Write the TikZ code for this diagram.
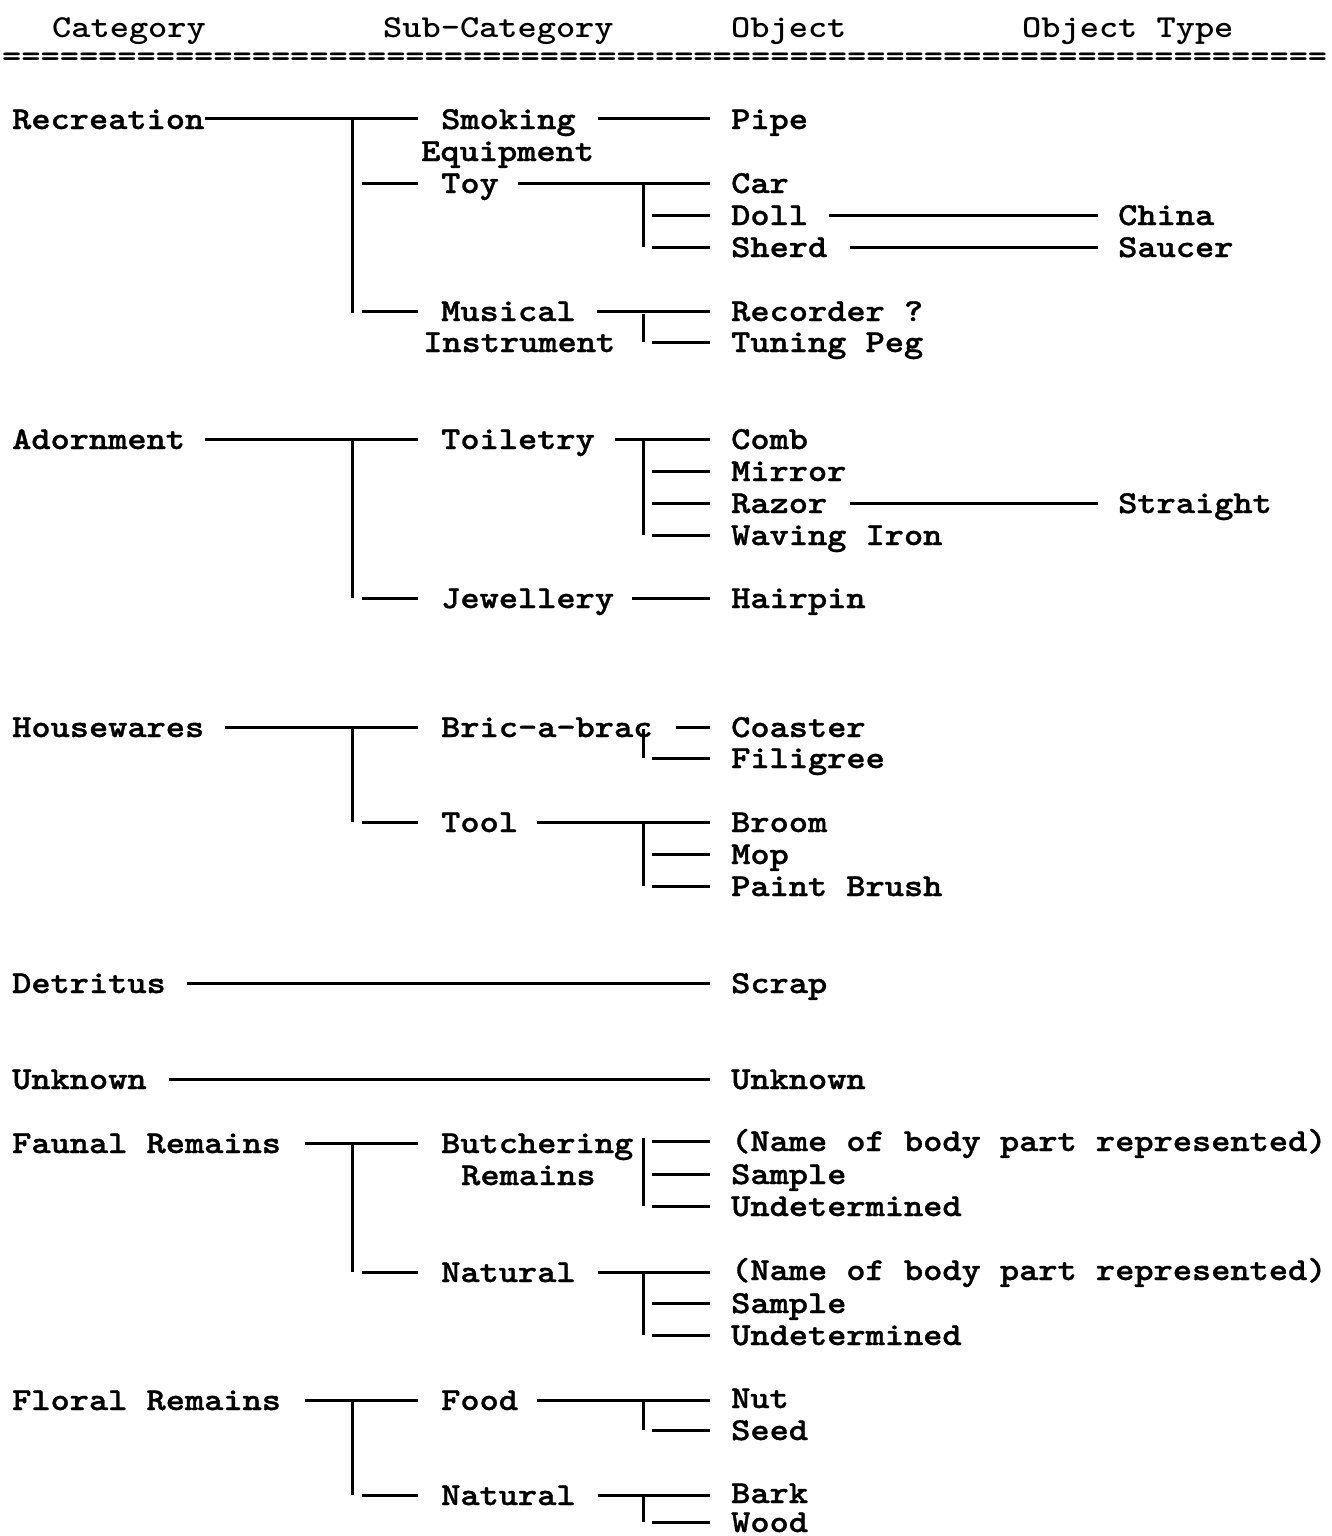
\documentclass[tikz,border=0pt]{standalone}
\usepackage{fontspec}
\newfontfamily\tw{lmmonolt10-bold.otf}[FakeStretch=1.143,FakeBold=1]
\newfontfamily\twh{lmmonolt10-bold.otf}[FakeStretch=1.143]
\begin{document}
\begin{tikzpicture}[
  x=1pt,y=-1pt,
  lbl/.style={anchor=west, inner sep=0pt, text height=20pt, text depth=0pt,
              font=\tw\fontsize{32}{32}\selectfont},
  hd/.style={lbl, font=\twh\fontsize{32}{32}\selectfont},
  conn/.style={line width=3pt, line cap=butt}
]
\path[use as bounding box] (0,0) rectangle (1332,1536);

% header
\node[hd] (hcat) at (52,28) {Category};
\node[hd] (hsub) at (383,28) {Sub-Category};
\node[hd] (hobj) at (731,28) {Object};
\node[hd] (htyp) at (1022,28) {Object Type};
\node[hd] (rule) at (2,57) {=====================================================================};

% ---------- Recreation ----------
\node[lbl] (rec) at (12,119) {Recreation};
\node[lbl] (smok) at (441,119) {Smoking};
\node[lbl] (equip) at (421,151) {Equipment};
\node[lbl] (pipe) at (731,119) {Pipe};
\node[lbl] (toy) at (441,183) {Toy};
\node[lbl] (car) at (731,183) {Car};
\node[lbl] (doll) at (731,215) {Doll};
\node[lbl] (sherd) at (731,247) {Sherd};
\node[lbl] (china) at (1118,215) {China};
\node[lbl] (saucer) at (1118,247) {Saucer};
\node[lbl] (mus) at (441,311) {Musical};
\node[lbl] (instr) at (423,342) {Instrument};
\node[lbl] (recd) at (731,311) {Recorder ?};
\node[lbl] (tune) at (731,342) {Tuning Peg};

\coordinate (tR) at (352,119);
\draw[conn] ([xshift=1pt]rec.east) -- ([xshift=-23pt]smok.west);
\draw[conn] (tR) -- ([yshift=-2pt]tR |- mus.west);
\draw[conn] ([xshift=10pt]tR |- toy.west) -- ([xshift=-23pt]toy.west);
\draw[conn] ([xshift=10pt]tR |- mus.west) -- ([xshift=-23pt]mus.west);
\draw[conn] ([xshift=22pt]smok.east) -- ([xshift=-21pt]pipe.west);
\coordinate (tToy) at (643,183);
\draw[conn] ([xshift=19pt]toy.east) -- ([xshift=-21pt]car.west);
\draw[conn] (tToy) -- (tToy |- sherd.west);
\draw[conn] ([xshift=9pt]tToy |- doll.west) -- ([xshift=-21pt]doll.west);
\draw[conn] ([xshift=9pt]tToy |- sherd.west) -- ([xshift=-21pt]sherd.west);
\draw[conn] ([xshift=21pt]doll.east) -- ([xshift=-20pt]china.west);
\draw[conn] ([xshift=23pt]sherd.east) -- ([xshift=-20pt]saucer.west);
\coordinate (tMus) at (643,314);
\draw[conn] ([xshift=21pt]mus.east) -- ([xshift=-21pt]recd.west);
\draw[conn] (tMus) -- (tMus |- tune.west);
\draw[conn] ([xshift=9pt]tMus |- tune.west) -- ([xshift=-21pt]tune.west);

% ---------- Adornment ----------
\node[lbl] (ador) at (12,439) {Adornment};
\node[lbl] (toil) at (441,439) {Toiletry};
\node[lbl] (comb) at (731,439) {Comb};
\node[lbl] (mirr) at (731,471) {Mirror};
\node[lbl] (razor) at (731,503) {Razor};
\node[lbl] (wave) at (731,535) {Waving Iron};
\node[lbl] (strt) at (1118,503) {Straight};
\node[lbl] (jew) at (441,598) {Jewellery};
\node[lbl] (hair) at (731,598) {Hairpin};

\coordinate (tA) at (352,439);
\draw[conn] ([xshift=20pt]ador.east) -- ([xshift=-23pt]toil.west);
\draw[conn] (tA) -- (tA |- jew.west);
\draw[conn] ([xshift=10pt]tA |- jew.west) -- ([xshift=-23pt]jew.west);
\coordinate (tToil) at (643,439);
\draw[conn] ([xshift=20pt]toil.east) -- ([xshift=-21pt]comb.west);
\draw[conn] (tToil) -- (tToil |- wave.west);
\draw[conn] ([xshift=9pt]tToil |- mirr.west) -- ([xshift=-21pt]mirr.west);
\draw[conn] ([xshift=9pt]tToil |- razor.west) -- ([xshift=-21pt]razor.west);
\draw[conn] ([xshift=9pt]tToil |- wave.west) -- ([xshift=-21pt]wave.west);
\draw[conn] ([xshift=23pt]razor.east) -- ([xshift=-20pt]strt.west);
\draw[conn] ([xshift=18pt]jew.east) -- ([xshift=-21pt]hair.west);

% ---------- Housewares ----------
\node[lbl] (house) at (12,727) {Housewares};
\node[lbl] (bric) at (441,727) {Bric-a-brac};
\node[lbl] (coast) at (731,727) {Coaster};
\node[lbl] (filig) at (731,758) {Filigree};
\node[lbl] (tool) at (441,822) {Tool};
\node[lbl] (broom) at (731,822) {Broom};
\node[lbl] (mop) at (731,854) {Mop};
\node[lbl] (brush) at (731,886) {Paint Brush};

\coordinate (tH) at (352,727);
\draw[conn] ([xshift=21pt]house.east) -- ([xshift=-23pt]bric.west);
\draw[conn] (tH) -- (tH |- tool.west);
\draw[conn] ([xshift=10pt]tH |- tool.west) -- ([xshift=-23pt]tool.west);
\coordinate (tBric) at (643,729);
\draw[conn] ([xshift=23pt]bric.east) -- ([xshift=-21pt]coast.west);
\draw[conn] (tBric) -- (tBric |- filig.west);
\draw[conn] ([xshift=9pt]tBric |- filig.west) -- ([xshift=-21pt]filig.west);
\coordinate (tTool) at (643,822);
\draw[conn] ([xshift=19pt]tool.east) -- ([xshift=-21pt]broom.west);
\draw[conn] (tTool) -- (tTool |- brush.west);
\draw[conn] ([xshift=9pt]tTool |- mop.west) -- ([xshift=-21pt]mop.west);
\draw[conn] ([xshift=9pt]tTool |- brush.west) -- ([xshift=-21pt]brush.west);

% ---------- Detritus / Unknown ----------
\node[lbl] (detr) at (12,983) {Detritus};
\node[lbl] (scrap) at (731,983) {Scrap};
\draw[conn] ([xshift=21pt]detr.east) -- ([xshift=-21pt]scrap.west);
\node[lbl] (unk) at (12,1079) {Unknown};
\node[lbl] (unko) at (731,1079) {Unknown};
\draw[conn] ([xshift=22pt]unk.east) -- ([xshift=-21pt]unko.west);

% ---------- Faunal Remains ----------
\node[lbl] (faun) at (12,1143) {Faunal Remains};
\node[lbl] (butch) at (441,1143) {Butchering};
\node[lbl] (brem) at (461,1175) {Remains};
\node[lbl] (bname) at (731,1141) {(Name of body part represented)};
\node[lbl] (bsamp) at (731,1174) {Sample};
\node[lbl] (bund) at (731,1206) {Undetermined};
\node[lbl] (nat1) at (441,1272) {Natural};
\node[lbl] (nname) at (731,1270) {(Name of body part represented)};
\node[lbl] (nsamp) at (731,1303) {Sample};
\node[lbl] (nund) at (731,1335) {Undetermined};

\coordinate (tF) at (352,1143);
\draw[conn] ([xshift=24pt]faun.east) -- ([xshift=-23pt]butch.west);
\draw[conn] (tF) -- (tF |- nat1.west);
\draw[conn] ([xshift=10pt]tF |- nat1.west) -- ([xshift=-23pt]nat1.west);
\coordinate (tB) at (643,1138);
\draw[conn] (tB) -- (tB |- bund.west);
\draw[conn] ([xshift=9pt]tB |- bname.west) -- ([xshift=-21pt]bname.west);
\draw[conn] ([xshift=9pt]tB |- bsamp.west) -- ([xshift=-21pt]bsamp.west);
\draw[conn] ([xshift=9pt]tB |- bund.west) -- ([xshift=-21pt]bund.west);
\coordinate (tN1) at (643,1272);
\draw[conn] ([xshift=22pt]nat1.east) -- ([xshift=-21pt]nname.west |- nat1.east);
\draw[conn] (tN1) -- (tN1 |- nund.west);
\draw[conn] ([xshift=9pt]tN1 |- nsamp.west) -- ([xshift=-21pt]nsamp.west);
\draw[conn] ([xshift=9pt]tN1 |- nund.west) -- ([xshift=-21pt]nund.west);

% ---------- Floral Remains ----------
\node[lbl] (flor) at (12,1400) {Floral Remains};
\node[lbl] (food) at (441,1400) {Food};
\node[lbl] (nut) at (731,1398) {Nut};
\node[lbl] (seed) at (731,1430) {Seed};
\node[lbl] (nat2) at (441,1495) {Natural};
\node[lbl] (bark) at (731,1493) {Bark};
\node[lbl] (wood) at (731,1522) {Wood};

\coordinate (tFl) at (352,1400);
\draw[conn] ([xshift=24pt]flor.east) -- ([xshift=-23pt]food.west);
\draw[conn] (tFl) -- (tFl |- nat2.west);
\draw[conn] ([xshift=10pt]tFl |- nat2.west) -- ([xshift=-23pt]nat2.west);
\coordinate (tFood) at (643,1400);
\draw[conn] ([xshift=19pt]food.east) -- ([xshift=-21pt]nut.west |- food.east);
\draw[conn] (tFood) -- (tFood |- seed.west);
\draw[conn] ([xshift=9pt]tFood |- seed.west) -- ([xshift=-21pt]seed.west);
\coordinate (tN2) at (643,1495);
\draw[conn] ([xshift=22pt]nat2.east) -- ([xshift=-21pt]bark.west |- nat2.east);
\draw[conn] (tN2) -- (tN2 |- wood.west);
\draw[conn] ([xshift=9pt]tN2 |- wood.west) -- ([xshift=-21pt]wood.west);
\end{tikzpicture}
\end{document}
